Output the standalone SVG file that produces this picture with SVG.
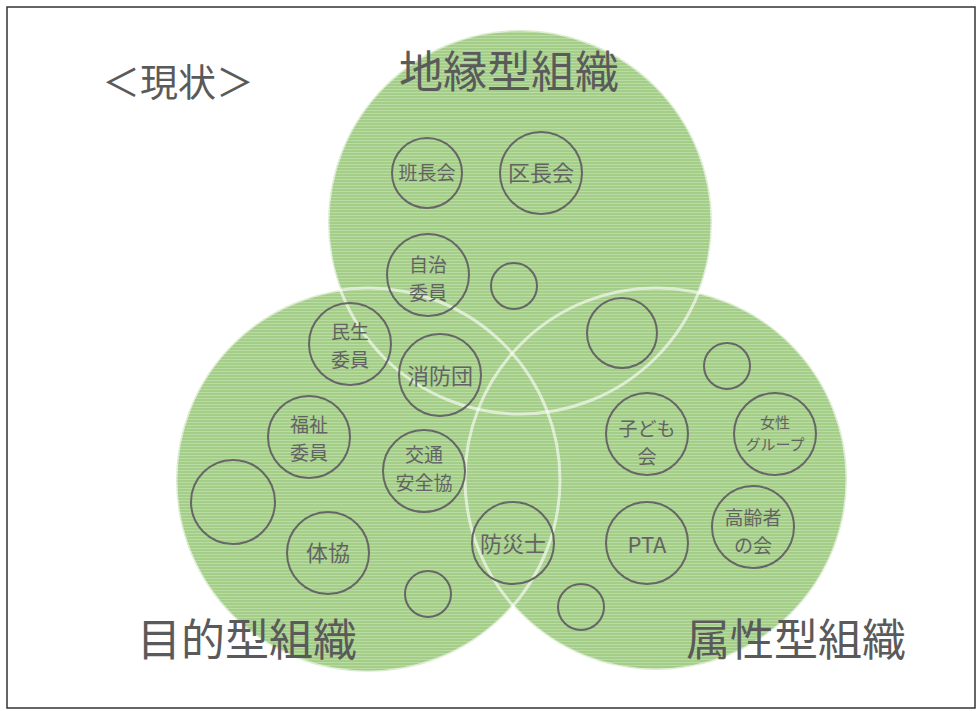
<svg xmlns="http://www.w3.org/2000/svg" width="979" height="711" viewBox="0 0 979 711">
<defs>
<pattern id="stripes" width="8" height="3" patternUnits="userSpaceOnUse">
<rect width="8" height="3" fill="#a4cd88"/>
<rect y="2" width="8" height="1" fill="#b9dba4"/>
</pattern>
</defs>
<style>
.big{fill:url(#stripes);stroke:none}
.edge{fill:none;stroke:#ffffff;stroke-width:3;stroke-opacity:0.6}
.org{fill:none;stroke:#666666;stroke-width:2}
.lbl{font-family:'Noto Sans CJK JP','Noto Sans',sans-serif;fill:#636363;text-anchor:middle}
.two{font-size:19px}
.title{font-family:'Noto Sans CJK JP','Noto Sans',sans-serif;fill:#5a5a5a;text-anchor:middle;font-size:44px}
</style>
<rect x="7" y="7" width="968" height="701" fill="#ffffff" stroke="#333333" stroke-width="1.5"/>
<g id="areas">
<circle id="area-chien" class="big" cx="520" cy="222" r="192"/>
<circle id="area-mokuteki" class="big" cx="368" cy="480" r="192"/>
<circle id="area-zokusei" class="big" cx="656" cy="479" r="191"/>
<circle class="edge" cx="520" cy="222" r="192"/>
<circle class="edge" cx="368" cy="480" r="192"/>
<circle class="edge" cx="656" cy="479" r="191"/>
</g>
<g id="connectors"></g>
<text id="heading" x="178" y="96" class="title" style="font-size:38px">＜現状＞</text>
<text id="t-chien" x="509" y="88" class="title">地縁型組織</text>
<text id="t-mokuteki" x="247" y="656" class="title">目的型組織</text>
<text id="t-zokusei" x="796" y="656" class="title">属性型組織</text>
<g id="n-hanchokai"><circle class="org" cx="427" cy="173" r="35"/><text class="lbl" x="427" y="180" font-size="19">班長会</text></g>
<g id="n-kuchokai"><circle class="org" cx="541" cy="173" r="41"/><text class="lbl" x="541" y="181" font-size="22">区長会</text></g>
<g id="n-jichi"><circle class="org" cx="428" cy="275" r="41"/><text class="lbl two"><tspan x="428" y="272">自治</tspan><tspan x="428" dy="28">委員</tspan></text></g>
<g id="n-empty1"><circle class="org" cx="514" cy="286" r="23"/></g>
<g id="n-minsei"><circle class="org" cx="350" cy="344" r="41"/><text class="lbl two"><tspan x="350" y="339">民生</tspan><tspan x="350" dy="28">委員</tspan></text></g>
<g id="n-shobodan"><circle class="org" cx="440" cy="375" r="41"/><text class="lbl" x="440" y="384" font-size="22">消防団</text></g>
<g id="n-fukushi"><circle class="org" cx="309" cy="437" r="41"/><text class="lbl two"><tspan x="309" y="432">福祉</tspan><tspan x="309" dy="28">委員</tspan></text></g>
<g id="n-kotsu"><circle class="org" cx="424" cy="471" r="41"/><text class="lbl two"><tspan x="424" y="462">交通</tspan><tspan x="424" dy="28">安全協</tspan></text></g>
<g id="n-empty2"><circle class="org" cx="233" cy="502" r="42"/></g>
<g id="n-taikyo"><circle class="org" cx="328" cy="553" r="41"/><text class="lbl" x="328" y="561" font-size="22">体協</text></g>
<g id="n-bosaishi"><circle class="org" cx="513" cy="543" r="41"/><text class="lbl" x="513" y="552" font-size="22">防災士</text></g>
<g id="n-empty3"><circle class="org" cx="428" cy="594" r="23"/></g>
<g id="n-empty4"><circle class="org" cx="622" cy="333" r="35"/></g>
<g id="n-empty5"><circle class="org" cx="727" cy="366" r="23"/></g>
<g id="n-kodomo"><circle class="org" cx="647" cy="434" r="41"/><text class="lbl two"><tspan x="647" y="436">子ども</tspan><tspan x="647" dy="28">会</tspan></text></g>
<g id="n-josei"><circle class="org" cx="775" cy="434" r="41"/><text class="lbl" font-size="15"><tspan x="775" y="428">女性</tspan><tspan x="775" dy="22">グループ</tspan></text></g>
<g id="n-pta"><circle class="org" cx="647" cy="543" r="41"/><text class="lbl" x="647" y="553" font-size="22">PTA</text></g>
<g id="n-koreisha"><circle class="org" cx="753" cy="527" r="41"/><text class="lbl two"><tspan x="753" y="525">高齢者</tspan><tspan x="753" dy="28">の会</tspan></text></g>
<g id="n-empty6"><circle class="org" cx="581" cy="607" r="23"/></g>
</svg>
